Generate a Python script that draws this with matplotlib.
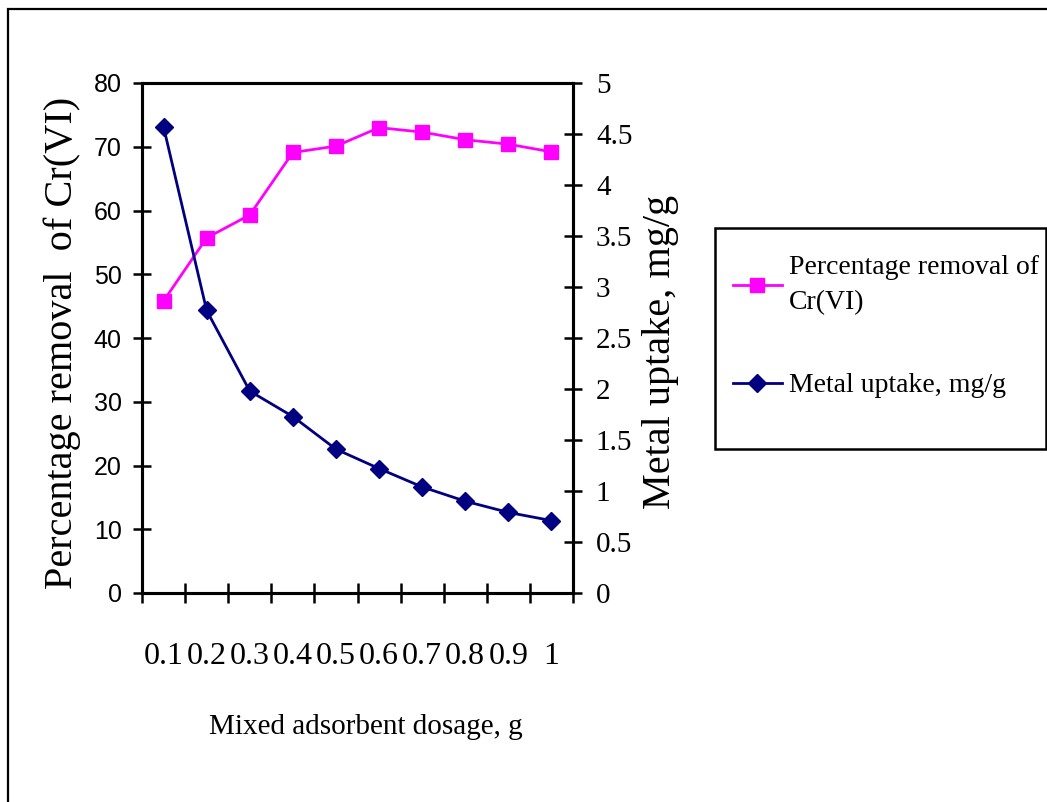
import matplotlib
matplotlib.use('Agg')
import matplotlib.pyplot as plt
from matplotlib import font_manager
from matplotlib.patches import Rectangle
from matplotlib.ticker import FixedLocator, NullFormatter, FixedFormatter

# Data
dosage_labels = ['0.1', '0.2', '0.3', '0.4', '0.5', '0.6', '0.7', '0.8', '0.9', '1']
removal_pct = [45.8, 55.7, 59.3, 69.1, 70.1, 73.0, 72.3, 71.1, 70.4, 69.2]
metal_uptake = [4.57, 2.77, 1.98, 1.73, 1.41, 1.22, 1.04, 0.90, 0.79, 0.71]

left_ticks = [0, 10, 20, 30, 40, 50, 60, 70, 80]
right_ticks = [0, 0.5, 1, 1.5, 2, 2.5, 3, 3.5, 4, 4.5, 5]
right_tick_labels = ['0', '0.5', '1', '1.5', '2', '2.5', '3', '3.5', '4', '4.5', '5']

installed = {f.name for f in font_manager.fontManager.ttflist}
SANS = 'Liberation Sans Narrow' if 'Liberation Sans Narrow' in installed else 'Liberation Sans'
SANS_SIZE = 20 if SANS == 'Liberation Sans Narrow' else 18
SERIF = 'Liberation Serif'

PINK = '#FF00FF'
NAVY = '#000080'

W, H = 1047, 802
fig = plt.figure(figsize=(W / 100, H / 100), dpi=100)
fig.patch.set_facecolor('white')

# outer chart border (right and bottom edges fall outside the picture)
fig.patches.append(Rectangle((8 / W, -0.05), 1.2, 1 - 9 / H + 0.05,
                             transform=fig.transFigure, fill=False,
                             edgecolor='black', linewidth=1.6, zorder=0))

ax = fig.add_axes([142 / W, 1 - 593 / H, 431 / W, 510 / H])
ax2 = ax.twinx()

x = list(range(len(dosage_labels)))

# category axis: boundary ticks, labels at centres
ax.set_xlim(-0.5, len(x) - 0.5)
ax.xaxis.set_major_locator(FixedLocator([i - 0.5 for i in range(len(x) + 1)]))
ax.xaxis.set_major_formatter(NullFormatter())
ax.xaxis.set_minor_locator(FixedLocator(x))
ax.xaxis.set_minor_formatter(FixedFormatter(dosage_labels))
ax.tick_params(axis='x', which='major', direction='inout', length=14, width=1.8)
ax.tick_params(axis='x', which='minor', length=0, pad=35)
for lab in ax.get_xticklabels(minor=True):
    lab.set_fontfamily(SERIF)
    lab.set_fontsize(23)

ax.set_ylim(0, 80)
ax.set_yticks(left_ticks)
ax.tick_params(axis='y', direction='inout', length=13, width=1.8, pad=8)
for lab in ax.get_yticklabels():
    lab.set_fontfamily(SANS)
    lab.set_fontsize(SANS_SIZE)

ax2.set_ylim(0, 5)
ax2.set_yticks(right_ticks)
ax2.set_yticklabels(right_tick_labels, fontfamily=SERIF, fontsize=21)
ax2.tick_params(axis='y', direction='inout', length=13, width=1.8, pad=10)

for a in (ax, ax2):
    for side in a.spines.values():
        side.set_linewidth(2.2)

l1, = ax.plot(x, removal_pct, color=PINK, linewidth=2, marker='s',
              markersize=10.5, markerfacecolor=PINK, markeredgecolor=PINK,
              label='Percentage removal of\nCr(VI)', clip_on=False, zorder=3)
l2, = ax2.plot(x, metal_uptake, color=NAVY, linewidth=2, marker='D',
               markersize=9, markerfacecolor=NAVY, markeredgecolor=NAVY,
               label='Metal uptake, mg/g', clip_on=False, zorder=3)

ax.set_xlabel('Mixed adsorbent dosage, g', fontfamily=SERIF, fontsize=21)
ax.xaxis.set_label_coords(0.52, -0.262)
ax.xaxis.label.set_va('center')

ax.set_ylabel('Percentage removal  of Cr(VI)', fontfamily=SERIF, fontsize=29)
ax.yaxis.set_label_coords(-0.186, 0.49)
ax.yaxis.label.set_va('center')

ax2.set_ylabel('Metal uptake, mg/g', fontfamily=SERIF, fontsize=29, rotation=90)
ax2.yaxis.set_label_coords(1.202, 0.473)
ax2.yaxis.label.set_va('center')

# legend box
fig.patches.append(Rectangle((715 / W, 1 - 449 / H), 331 / W, 221 / H,
                             transform=fig.transFigure, fill=False,
                             edgecolor='black', linewidth=1.8))
leg = fig.legend(handles=[l1, l2], loc='upper left',
                 bbox_to_anchor=(722 / W, 1 - 244 / H), frameon=False,
                 prop={'family': SERIF, 'size': 20}, handlelength=1.75,
                 handletextpad=0.25, labelspacing=2.1, borderaxespad=0)
for t in leg.get_texts():
    t.set_linespacing(1.5)

fig.savefig('out.png', dpi=100, facecolor='white')
